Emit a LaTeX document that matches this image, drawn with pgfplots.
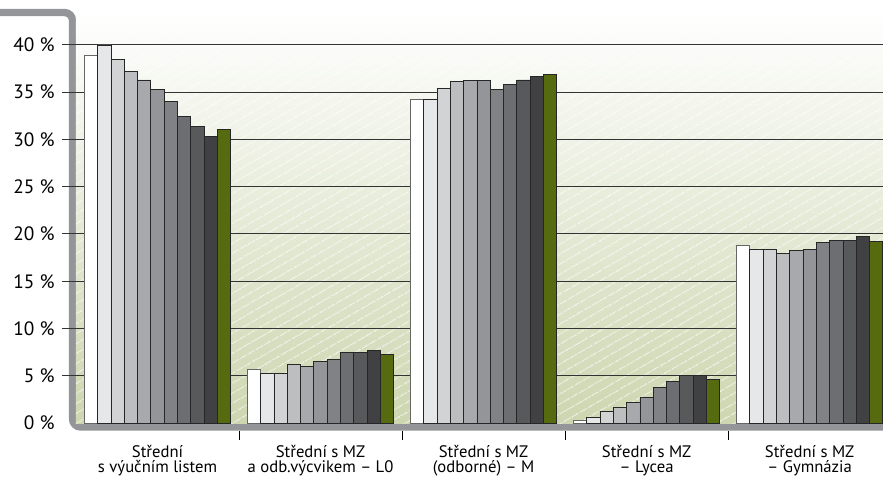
\documentclass[border=0pt]{standalone}
\usepackage{pgfplots}
\usepackage{pgfplotstable}
\pgfplotsset{compat=1.18}
\usetikzlibrary{patterns.meta}
\usepackage{fontspec}
\setmainfont{PT Sans}

\definecolor{b1}{HTML}{FFFFFF}
\definecolor{b2}{HTML}{E6E7E8}
\definecolor{b3}{HTML}{D1D3D4}
\definecolor{b4}{HTML}{BCBEC0}
\definecolor{b5}{HTML}{A7A9AC}
\definecolor{b6}{HTML}{939598}
\definecolor{b7}{HTML}{808285}
\definecolor{b8}{HTML}{6D6E71}
\definecolor{b9}{HTML}{58595B}
\definecolor{b10}{HTML}{414042}
\definecolor{b11}{HTML}{566B0F}
\definecolor{framegray}{HTML}{939598}
\definecolor{bggreen}{HTML}{CDD6B0}

% podily podle typu skoly, 11 rocniku
\pgfplotstableread{
x y1 y2 y3 y4 y5 y6 y7 y8 y9 y10 y11
0 38.9 40.0 38.5 37.2 36.3 35.3 34.0 32.4 31.4 30.3 31.1
1 5.7 5.3 5.3 6.2 6.0 6.5 6.7 7.5 7.5 7.7 7.3
2 34.2 34.2 35.4 36.1 36.2 36.2 35.3 35.8 36.3 36.7 36.9
3 0.3 0.6 1.2 1.6 2.2 2.7 3.8 4.4 5.0 5.0 4.6
4 18.8 18.4 18.4 17.9 18.3 18.4 19.1 19.3 19.3 19.7 19.2
}\podily

\begin{document}
\begin{tikzpicture}
\useasboundingbox (0,0) rectangle (662.25pt,357pt);
% sedy ram
\draw[line width=5.5pt, framegray, rounded corners=6pt]
  (-5pt,347.6pt) -- (54.4pt,347.6pt) -- (54.4pt,36.75pt) -- (670pt,36.75pt);
\begin{axis}[
  at={(57pt,39.75pt)}, anchor=south west,
  scale only axis, width=605.25pt, height=309.75pt,
  xmin=-0.5, xmax=4.45, ymin=0, ymax=43.7,
  ybar=0pt, bar width=9.98pt,
  axis line style={draw=none},
  clip=false,
  xtick={0,...,4},
  xticklabels={{Střední\\s výučním listem},{Střední s MZ\\a odb.výcvikem – L0},{Střední s MZ\\(odborné) – M},{Střední s MZ\\– Lycea},{Střední s MZ\\– Gymnázia}},
  x tick style={draw=none},
  xticklabel style={align=center, anchor=north, inner sep=0pt, yshift=-6.2pt,
    font=\fontsize{12.5}{11}\selectfont},
  ytick={5,10,...,40},
  extra y ticks={0},
  extra y tick style={grid=none, y tick style={draw=none}},
  /pgf/number format/assume math mode=true,
  yticklabel={\pgfmathprintnumber{\tick} \%},
  yticklabel style={font=\fontsize{14.5}{15}\selectfont, xshift=-2pt},
  tick align=outside,
  major tick length=10.5pt,
  y tick style={draw=black!80, line width=0.75pt},
  ymajorgrids,
  major grid style={draw=black!80, line width=0.75pt},
  axis background/.style={top color=white, bottom color=bggreen,
    postaction={pattern={Lines[angle=30, distance=6.5pt, line width=0.6pt]}, pattern color=white}},
  every axis plot/.append style={draw=black!85, line width=0.6pt},
]
\addplot[fill=b1, draw=black!60] table[x=x, y=y1] {\podily};
\addplot[fill=b2] table[x=x, y=y2] {\podily};
\addplot[fill=b3] table[x=x, y=y3] {\podily};
\addplot[fill=b4] table[x=x, y=y4] {\podily};
\addplot[fill=b5] table[x=x, y=y5] {\podily};
\addplot[fill=b6] table[x=x, y=y6] {\podily};
\addplot[fill=b7] table[x=x, y=y7] {\podily};
\addplot[fill=b8] table[x=x, y=y8] {\podily};
\addplot[fill=b9] table[x=x, y=y9] {\podily};
\addplot[fill=b10] table[x=x, y=y10] {\podily};
\addplot[fill=b11] table[x=x, y=y11] {\podily};
% oddelovace kategorii
\draw[black, line width=0.75pt] ([yshift=-6pt]axis cs:0.5,0) -- ([yshift=-13pt]axis cs:0.5,0);
\draw[black, line width=0.75pt] ([yshift=-6pt]axis cs:1.5,0) -- ([yshift=-13pt]axis cs:1.5,0);
\draw[black, line width=0.75pt] ([yshift=-6pt]axis cs:2.5,0) -- ([yshift=-13pt]axis cs:2.5,0);
\draw[black, line width=0.75pt] ([yshift=-6pt]axis cs:3.5,0) -- ([yshift=-13pt]axis cs:3.5,0);
\end{axis}
\end{tikzpicture}
\end{document}
